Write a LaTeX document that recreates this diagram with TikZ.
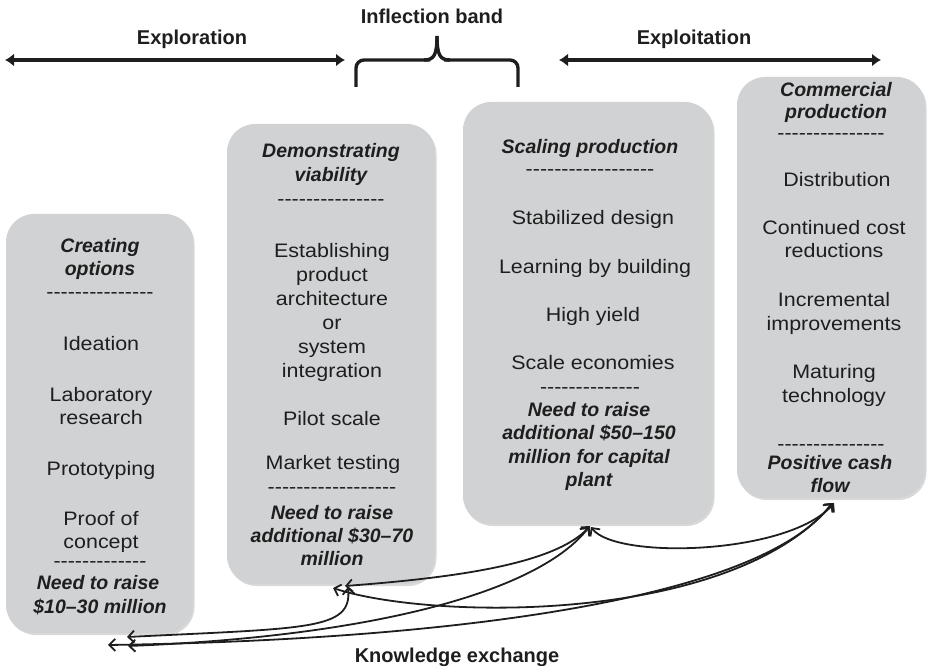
\documentclass[tikz,border=0pt]{standalone}
\usepackage{fontspec}
\setmainfont{Liberation Sans}[FakeStretch=1.1]
\newfontfamily\plainsans{Liberation Sans}
\usetikzlibrary{arrows.meta,shadows}
\definecolor{boxgray}{RGB}{209,210,212}
\definecolor{ink}{RGB}{30,30,30}
\newcommand\hyph[1]{\foreach\hh in {1,...,#1}{-}}
\begin{document}
\begin{tikzpicture}[x=1pt,y=-1pt,
  box/.style={fill=boxgray, rounded corners=28pt,
    drop shadow={opacity=0.3, shadow xshift=1.5pt, shadow yshift=-2pt}},
  tx/.style={anchor=base, inner sep=0pt, text=ink, font=\fontsize{19.5}{23.5}\selectfont},
  ttl/.style={anchor=base, inner sep=0pt, text=ink, font=\fontsize{19.5}{23.5}\selectfont\plainsans\bfseries\itshape},
  hdr/.style={anchor=base, inner sep=0pt, text=ink, font=\fontsize{20}{24}\selectfont\plainsans\bfseries},
  toparrow/.style={line width=3.2pt, draw=ink, {Latex[length=9pt,width=13pt]}-{Latex[length=9pt,width=13pt]}},
  bracestyle/.style={line width=3.4pt, draw=ink},
  kx/.style={line width=1.8pt, draw=ink, {Straight Barb[length=6pt,width=12pt]}-{Straight Barb[length=6pt,width=12pt]}}
]
\useasboundingbox (0,0) rectangle (927,666);

% boxes
\node[box, minimum width=187pt, minimum height=419pt] (B1) at (99.5,423.5) {};
\node[box, minimum width=208pt, minimum height=460pt] (B2) at (331,354) {};
\node[box, minimum width=250pt, minimum height=422pt] (B3) at (588,313) {};
\node[box, minimum width=188pt, minimum height=421pt] (B4) at (831,287.5) {};

% headers
\node[hdr] (hExpl) at (192,45) {Exploration};
\node[hdr] (hInfl) at (432,24) {Inflection band};
\node[hdr] (hExpt) at (694,45) {Exploitation};
\coordinate (exL) at (5,60);
\coordinate (exR) at (345,60);
\coordinate (etL) at (559,60);
\coordinate (etR) at (881,60);
\draw[toparrow] (exL) -- (exR);
\draw[toparrow] (etL) -- (etR);
\draw[bracestyle, rounded corners=8pt] (356,87) -- (356,60) -- (430,60);
\draw[bracestyle, rounded corners=8pt] (518,87) -- (518,60) -- (444,60);
\draw[bracestyle] (424,60) .. controls (434,60) and (437,55) .. (437,36);
\draw[bracestyle] (450,60) .. controls (440,60) and (437,55) .. (437,36);

% box 1
\node[ttl] (a1) at (100,252) {Creating};
\node[ttl] (a2) at (100,275) {options};
\node[tx]  (a3) at (100,298) {\hyph{15}};
\node[tx]  (a4) at (101,350) {Ideation};
\node[tx]  (a5) at (101,401) {Laboratory};
\node[tx]  (a6) at (101,424) {research};
\node[tx]  (a7) at (101,475) {Prototyping};
\node[tx]  (a8) at (101,525) {Proof of};
\node[tx]  (a9) at (101,548) {concept};
\node[tx]  (a10) at (100,567) {\hyph{13}};
\node[ttl] (a11) at (98,589) {Need to raise};
\node[ttl] (a12) at (100,613) {\$10–30 million};

% box 2
\node[ttl] (b1) at (331,158) {Demonstrating};
\node[ttl] (b2) at (331,182) {viability};
\node[tx]  (b3) at (331,206) {\hyph{15}};
\node[tx]  (b4) at (332,257) {Establishing};
\node[tx]  (b5) at (332,281) {product};
\node[tx]  (b6) at (332,305) {architecture};
\node[tx]  (b7) at (332,329) {or};
\node[tx]  (b8) at (332,353) {system};
\node[tx]  (b9) at (332,377) {integration};
\node[tx]  (b10) at (332,425) {Pilot scale};
\node[tx]  (b11) at (333,469) {Market testing};
\node[tx]  (b12) at (332,493) {\hyph{18}};
\node[ttl] (b13) at (332,519) {Need to raise};
\node[ttl] (b14) at (332,542) {additional \$30–70};
\node[ttl] (b15) at (332,565) {million};

% box 3
\node[ttl] (c1) at (590,154) {Scaling production};
\node[tx]  (c2) at (590,176) {\hyph{18}};
\node[tx]  (c3) at (593,224) {Stabilized design};
\node[tx]  (c4) at (595,273) {Learning by building};
\node[tx]  (c5) at (593,321) {High yield};
\node[tx]  (c6) at (593,369) {Scale economies};
\node[tx]  (c7) at (590,393) {\hyph{14}};
\node[ttl] (c8) at (589,416) {Need to raise};
\node[ttl] (c9) at (589,439) {additional \$50–150};
\node[ttl] (c10) at (589,463) {million for capital};
\node[ttl] (c11) at (589,486) {plant};

% box 4
\node[ttl] (d1) at (836,97) {Commercial};
\node[ttl] (d2) at (836,119) {production};
\node[tx]  (d3) at (831,140) {\hyph{15}};
\node[tx]  (d4) at (837,186) {Distribution};
\node[tx]  (d5) at (834,234) {Continued cost};
\node[tx]  (d6) at (834,258) {reductions};
\node[tx]  (d7) at (834,306) {Incremental};
\node[tx]  (d8) at (834,330) {improvements};
\node[tx]  (d9) at (834,378) {Maturing};
\node[tx]  (d10) at (834,402) {technology};
\node[tx]  (d11) at (831,450) {\hyph{15}};
\node[ttl] (d12) at (830,469) {Positive cash};
\node[ttl] (d13) at (830,492) {flow};

% knowledge exchange
\node[hdr] (kx) at (457,662) {Knowledge exchange};

% connector end points
\coordinate (p1a) at (127,637);
\coordinate (p1b) at (128,646);
\coordinate (p1c) at (108,645);
\coordinate (p2a) at (348,587);
\coordinate (p2b) at (345,586);
\coordinate (p2c) at (333,588);
\coordinate (p3a) at (589,527);
\coordinate (p3b) at (590,526);
\coordinate (p3c) at (591,527);
\coordinate (p4a) at (832,503);
\coordinate (p4b) at (833,503);
\coordinate (p4c) at (834,503);

\draw[kx] (p1a) .. controls (310,628) and (352,630) .. (p2a);
\draw[kx] (p1b) .. controls (380,636) and (540,590) .. (p3a);
\draw[kx] (p1c) .. controls (450,640) and (760,600) .. (p4a);
\draw[kx] (p2b) .. controls (450,578) and (555,565) .. (p3b);
\draw[kx] (p2c) .. controls (430,620) and (730,625) .. (p4b);
\draw[kx] (p3c) .. controls (615,560) and (790,555) .. (p4c);
\end{tikzpicture}
\end{document}
